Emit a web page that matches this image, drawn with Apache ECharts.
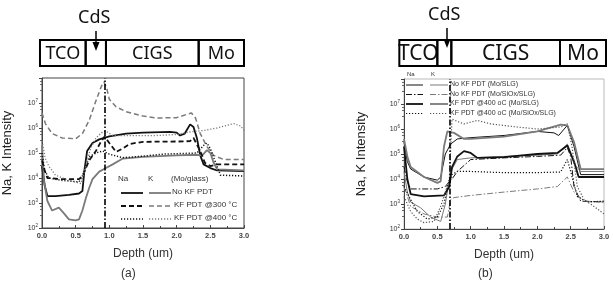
<!DOCTYPE html>
<html><head><meta charset="utf-8">
<script src="https://cdn.jsdelivr.net/npm/echarts@6/dist/echarts.min.js"></script>
<style>html,body{margin:0;padding:0;background:#fff}#c{width:613px;height:284px}</style>
</head><body><div id="c"></div>
<script>
// ---- Panel (a) data: [depth (um), intensity] ----
const aNaNoKF = [[0,3e4],[0.04,5e3],[0.08,1.9e3],[0.2,1.9e3],[0.4,2.1e3],[0.55,2.4e3],[0.6,3e3],[0.63,2e4],[0.67,1.2e5],[0.75,2.5e5],[0.85,3.5e5],[1.0,4.6e5],[1.25,6e5],[1.5,6.5e5],[1.9,7e5],[2.0,6.5e5],[2.05,5e5],[2.12,6e5],[2.2,1.4e6],[2.25,1.1e6],[2.3,4e5],[2.35,8e4],[2.4,3.5e4],[2.5,2.5e4],[2.6,2e4],[3.0,1.9e4]];
const aKNoKF = [[0,2e5],[0.03,8e3],[0.08,1.2e3],[0.15,5e2],[0.25,6.5e2],[0.32,4e2],[0.4,2.2e2],[0.5,2e2],[0.55,2.2e2],[0.6,5e2],[0.65,1.5e3],[0.7,4e3],[0.75,9e3],[0.85,1.8e4],[0.95,2.5e4],[1.05,3.5e4],[1.2,6e4],[1.5,7e4],[2.0,8e4],[2.3,8.5e4],[2.38,8e4],[2.45,1.3e5],[2.5,1e5],[2.55,4e4],[2.6,2.2e4],[3.0,2e4]];
const aNa300 = [[0,5e4],[0.04,2e4],[0.08,1e4],[0.3,9e3],[0.55,9e3],[0.6,1.2e4],[0.7,5e4],[0.8,1.2e5],[0.88,3e5],[0.93,4.5e5],[1.0,2.5e5],[1.1,1.1e5],[1.2,1.5e5],[1.3,2.3e5],[1.5,2.8e5],[2.1,2.9e5],[2.2,3e5],[2.25,4e5],[2.35,1.2e5],[2.42,4e4],[2.5,3e4],[2.6,3.5e4],[3.0,3.5e4]];
const aK300 = [[0,4e6],[0.05,1.5e6],[0.15,6e5],[0.3,4e5],[0.5,3.7e5],[0.6,6e5],[0.7,2e6],[0.8,1.2e7],[0.88,4.5e7],[0.92,7e7],[0.96,4e7],[1.0,1.4e7],[1.1,7e6],[1.25,4.5e6],[1.5,3e6],[1.7,2.5e6],[2.0,2.6e6],[2.15,3.5e6],[2.22,4e6],[2.28,2.5e6],[2.35,6e5],[2.45,1.8e5],[2.55,8e4],[2.7,5.5e4],[3.0,5.5e4]];
const aNa400 = [[0,1e5],[0.04,2e4],[0.1,1e4],[0.3,8e3],[0.55,7e3],[0.62,1.5e4],[0.7,7e4],[0.8,1e5],[0.9,1.2e5],[1.0,9e4],[1.2,6.5e4],[1.5,7.5e4],[1.8,9e4],[2.3,1e5],[2.4,2e5],[2.45,2.5e5],[2.5,1.5e5],[2.58,4e4],[2.65,1.3e4],[3.0,1.2e4]];
const aK400 = [[0,3e5],[0.05,6e4],[0.1,3e4],[0.2,1.3e4],[0.4,8e3],[0.58,6e3],[0.65,3e4],[0.72,1.5e5],[0.8,4e5],[0.9,7e5],[0.95,7.5e5],[1.05,5e5],[1.3,5e5],[1.7,5e5],[2.0,5.5e5],[2.2,7e5],[2.4,8e5],[2.6,1e6],[2.85,1.5e6],[2.95,1.2e6],[3.0,8e5]];
const aCdS = 0.93;

// ---- Panel (b) data ----
const bNaSLG = [[0,3e5],[0.05,5e4],[0.1,2.5e4],[0.3,1.2e4],[0.5,9e3],[0.55,1.2e4],[0.62,1e5],[0.7,2.5e5],[0.8,4e5],[1.0,4.5e5],[1.5,5.5e5],[2.0,8e5],[2.25,7e5],[2.32,5.5e5],[2.45,1.4e6],[2.55,2e5],[2.65,1.5e4],[3.0,1.5e4]];
const bKSLG = [[0,2e4],[0.05,3e3],[0.1,1.2e3],[0.25,7e2],[0.4,3e2],[0.55,2e2],[0.62,1e3],[0.7,2e4],[0.8,6e4],[1.0,7e4],[1.5,8e4],[2.0,9e4],[2.3,1e5],[2.45,2.5e5],[2.55,4e4],[2.65,2e4],[3.0,2e4]];
const bNaSiOx = [[0,3e4],[0.05,8e3],[0.1,4e3],[0.3,4e3],[0.5,4e3],[0.62,5e3],[0.68,8e3],[0.72,1e4],[0.8,2e4],[1.0,6e4],[1.5,7e4],[2.0,8e4],[2.35,9e4],[2.45,1.8e5],[2.5,8e4],[2.55,5e3],[2.65,1.3e3],[3.0,1.2e3]];
const bKSiOx = [[0,5e3],[0.1,8e2],[0.3,4e2],[0.5,3e2],[0.65,3e2],[0.7,1.5e3],[0.75,1.8e3],[1.0,2.2e3],[1.5,3e3],[2.0,4e3],[2.3,5e3],[2.45,1.2e4],[2.55,3e3],[2.7,1.3e3],[3.0,1.2e3]];
const bNa400SLG = [[0,2e5],[0.05,1e4],[0.1,2.5e3],[0.3,2e3],[0.6,2.2e3],[0.68,5e3],[0.72,3e4],[0.8,8e4],[0.9,1.3e5],[1.0,1.1e5],[1.1,7e4],[1.5,7.5e4],[2.0,1e5],[2.3,1.1e5],[2.45,2.2e5],[2.55,5e4],[2.62,1.2e4],[3.0,1.2e4]];
const bK400SLG = [[0,4e5],[0.05,8e4],[0.1,3e4],[0.3,1.2e4],[0.5,7e3],[0.55,8e3],[0.6,2e5],[0.65,8e5],[0.75,7e5],[0.9,4e5],[1.0,4e5],[1.5,5e5],[2.0,8e5],[2.35,1.5e6],[2.45,1.4e6],[2.55,3e5],[2.65,2.5e4],[3.0,2.5e4]];
const bNa400SiOx = [[0,5e3],[0.1,1.5e3],[0.2,5e2],[0.35,2.5e2],[0.5,3e2],[0.6,1e3],[0.65,5e3],[0.72,1.5e4],[0.8,2e4],[1.0,2e4],[1.5,1.8e4],[2.0,1.8e4],[2.35,1.9e4],[2.45,6e4],[2.5,2e4],[2.6,2e3],[2.75,1.2e3],[3.0,1.3e3]];
const bK400SiOx = [[0,2e3],[0.1,5e2],[0.2,2.5e2],[0.3,1.8e2],[0.45,2e2],[0.55,8e2],[0.62,3e3],[0.68,1e4],[0.72,2.5e6],[0.8,2e6],[0.9,1.6e6],[1.1,2.2e6],[1.3,1.6e6],[1.7,1.2e6],[2.0,1e6],[2.35,1.2e6],[2.45,1.6e6],[2.52,2e5],[2.6,5e3],[2.7,1.5e3],[2.85,8e2],[3.0,4e2]];
const bCdS = 0.68;

// ---- Layer schematics: [start depth, end depth, label] ----
const layersA = [[-0.015,0.66,'TCO'],[0.66,0.96,''],[0.96,2.33,'CIGS'],[2.33,3.0,'Mo']];
const layersB = [[-0.07,0.5,'TCO'],[0.5,0.71,''],[0.71,2.34,'CIGS'],[2.34,3.03,'Mo']];
const xTicks = ['0.0','0.5','1.0','1.5','2.0','2.5','3.0'];

const BLACK = '#111', GRAY = '#7a7a7a';
const DASH = [5,3], DOT = [1.2,1.8], DASHDOT = [6,2,1.5,2];
const FONT = 'Liberation Sans, Arial, sans-serif';

function line(name, data, idx, color, width, type) {
  return {name, type:'line', data, xAxisIndex:idx, yAxisIndex:idx, showSymbol:false, symbol:'none',
    lineStyle:{color, width, type}, animation:false, z:3};
}
function yAxis(idx, nameGap) {
  return {type:'log', logBase:10, min:100, max:1e8, gridIndex:idx, name:'Na, K Intensity', nameLocation:'middle', nameGap,
    nameTextStyle:{fontFamily:FONT, fontSize:13, color:'#222'},
    axisLine:{show:true, lineStyle:{color:'#444'}}, axisTick:{show:true, length:3, lineStyle:{color:'#444'}},
    minorTick:{show:true, splitNumber:4, length:2, lineStyle:{color:'#666'}}, splitLine:{show:false},
    axisLabel:{fontFamily:FONT, fontSize:7, color:'#333', margin:4,
      formatter: v => { const e = Math.round(Math.log10(v)); return e > 7 ? '' : '10{s|' + e + '}'; },
      rich:{s:{fontSize:4.5, padding:[0,0,5,0]}}}};
}
function xAxis(idx) {
  return {type:'value', min:0, max:3, interval:0.5, gridIndex:idx, name:'Depth (um)', nameLocation:'middle', nameGap:20,
    nameTextStyle:{fontFamily:FONT, fontSize:12, color:'#333'},
    axisLine:{show:true, onZero:false, lineStyle:{color:'#444'}}, axisTick:{show:true, inside:true, length:3, lineStyle:{color:'#444'}},
    minorTick:{show:true, splitNumber:2, length:2}, splitLine:{show:false},
    axisLabel:{fontFamily:FONT, fontSize:7.5, fontWeight:'bold', color:'#444', margin:4, formatter: v => xTicks[Math.round(v*2)]}};
}
function schemAxes(idx) {
  return [{type:'value', min:0, max:3, gridIndex:idx, show:false}, {type:'value', min:0, max:1, gridIndex:idx, show:false}];
}
function layerSeries(idx, layers, fontSize) {
  return {type:'custom', xAxisIndex:idx, yAxisIndex:idx, data:layers.map(l => [l[0], l[1]]), animation:false, clip:false, z:1,
    renderItem:(params, api) => {
      const p0 = api.coord([api.value(0), 0]), p1 = api.coord([api.value(1), 1]);
      const label = layers[params.dataIndex][2];
      return {type:'group', children:[
        {type:'rect', shape:{x:p0[0], y:p1[1], width:p1[0]-p0[0], height:p0[1]-p1[1]}, style:{fill:'none', stroke:'#000', lineWidth:2}},
        {type:'text', style:{text:label, x:(p0[0]+p1[0])/2, y:(p0[1]+p1[1])/2+1, align:'center', verticalAlign:'middle',
          font: fontSize + 'px "Noto Sans", sans-serif', fill:'#111'}}]};
    }};
}
function vline(x) {
  return {symbol:'none', silent:true, label:{show:false}, data:[{xAxis:x}], lineStyle:{type:DASHDOT, color:'#000', width:1.6}, animation:false};
}

const chart = echarts.init(document.getElementById('c'), null, {renderer:'canvas'});
const sA = [
  line('aNaNoKF', aNaNoKF, 0, BLACK, 1.8, 'solid'),
  line('aKNoKF', aKNoKF, 0, GRAY, 1.8, 'solid'),
  line('aNa300', aNa300, 0, BLACK, 1.8, DASH),
  line('aK300', aK300, 0, GRAY, 1.5, DASH),
  line('aNa400', aNa400, 0, BLACK, 1.5, DOT),
  line('aK400', aK400, 0, GRAY, 1.3, DOT)
];
sA[0].markLine = vline(aCdS);
const sB = [
  line('bNaSLG', bNaSLG, 1, BLACK, 1, 'solid'),
  line('bKSLG', bKSLG, 1, GRAY, 1, 'solid'),
  line('bNaSiOx', bNaSiOx, 1, BLACK, 1, DASHDOT),
  line('bKSiOx', bKSiOx, 1, GRAY, 1, DASHDOT),
  line('bNa400SLG', bNa400SLG, 1, BLACK, 1.8, 'solid'),
  line('bK400SLG', bK400SLG, 1, GRAY, 1.8, 'solid'),
  line('bNa400SiOx', bNa400SiOx, 1, BLACK, 1.2, DOT),
  line('bK400SiOx', bK400SiOx, 1, '#555', 1.2, DOT)
];
sB[0].markLine = vline(bCdS);

const tStyle = (size, extra) => Object.assign({fontFamily:FONT, fontSize:size, fill:'#333'}, extra || {});
const lg = (x1, x2, y, color, width, dash) => ({type:'line', shape:{x1, y1:y, x2, y2:y}, style:{stroke:color, lineWidth:width, lineDash:dash}, z:10});

chart.setOption({
  animation:false,
  grid:[
    {left:41, width:203, top:78, height:150, show:true, borderColor:'#444', borderWidth:1, backgroundColor:'transparent'},
    {left:404, width:200, top:79, height:150, show:true, borderColor:'#bbb', borderWidth:1, backgroundColor:'transparent'},
    {left:41, width:203, top:40, height:26},
    {left:404, width:200, top:40, height:26}
  ],
  xAxis:[xAxis(0), xAxis(1), schemAxes(2)[0], schemAxes(3)[0]],
  yAxis:[yAxis(0, 28), yAxis(1, 36), schemAxes(2)[1], schemAxes(3)[1]],
  series:[...sA, ...sB, layerSeries(2, layersA, 18), layerSeries(3, layersB, 21)],
  graphic:[
    {type:'text', left:78, top:9, z:100, style:{text:'CdS', font:'18px "Noto Sans", sans-serif', fill:'#111'}},
    {type:'line', z:100, shape:{x1:96, y1:31, x2:96, y2:46}, style:{stroke:'#000', lineWidth:1.5}},
    {type:'polygon', z:100, shape:{points:[[92.5,42],[99.5,42],[96,51]]}, style:{fill:'#000'}},
    {type:'text', left:428, top:6, z:100, style:{text:'CdS', font:'18px "Noto Sans", sans-serif', fill:'#111'}},
    {type:'line', z:100, shape:{x1:447, y1:28, x2:447, y2:43}, style:{stroke:'#000', lineWidth:1.5}},
    {type:'polygon', z:100, shape:{points:[[443.5,39],[450.5,39],[447,48]]}, style:{fill:'#000'}},
    // legend (a)
    {type:'text', left:118, top:175, style:tStyle(8, {text:'Na'})},
    {type:'text', left:148, top:175, style:tStyle(8, {text:'K'})},
    {type:'text', left:171, top:175, style:tStyle(8, {text:'(Mo/glass)'})},
    lg(121, 143, 193, BLACK, 1.8, null), lg(149, 171, 193, GRAY, 1.8, null),
    lg(121, 143, 206, BLACK, 1.8, DASH), lg(149, 171, 206, GRAY, 1.5, DASH),
    lg(121, 143, 219, BLACK, 1.5, DOT), lg(149, 171, 219, GRAY, 1.3, DOT),
    {type:'text', left:172, top:188, style:tStyle(8, {text:'No KF PDT'})},
    {type:'text', left:174, top:201, style:tStyle(8, {text:'KF PDT @300 °C'})},
    {type:'text', left:174, top:214, style:tStyle(8, {text:'KF PDT @400 °C'})},
    // legend (b)
    {type:'text', left:407, top:71, style:tStyle(6, {text:'Na'})},
    {type:'text', left:431, top:71, style:tStyle(6, {text:'K'})},
    lg(406, 423, 85, BLACK, 1, null), lg(430, 448, 85, GRAY, 1, null),
    lg(406, 423, 94.5, BLACK, 1, DASHDOT), lg(430, 448, 94.5, GRAY, 1, DASHDOT),
    lg(406, 423, 104, BLACK, 1.8, null), lg(430, 448, 104, GRAY, 1.8, null),
    lg(406, 423, 113.5, BLACK, 1.2, DOT), lg(430, 448, 113.5, '#555', 1.2, DOT),
    {type:'text', left:450, top:81, style:tStyle(7, {text:'No KF PDT (Mo/SLG)'})},
    {type:'text', left:450, top:90.5, style:tStyle(7, {text:'No KF PDT (Mo/SiOx/SLG)'})},
    {type:'text', left:450, top:100, style:tStyle(7, {text:'KF PDT @400 oC (Mo/SLG)'})},
    {type:'text', left:450, top:109.5, style:tStyle(7, {text:'KF PDT @400 oC (Mo/SiOx/SLG)'})},
    // panel labels
    {type:'text', left:121, top:268, style:tStyle(12, {text:'(a)'})},
    {type:'text', left:478, top:268, style:tStyle(12, {text:'(b)'})}
  ]
});
</script></body></html>
